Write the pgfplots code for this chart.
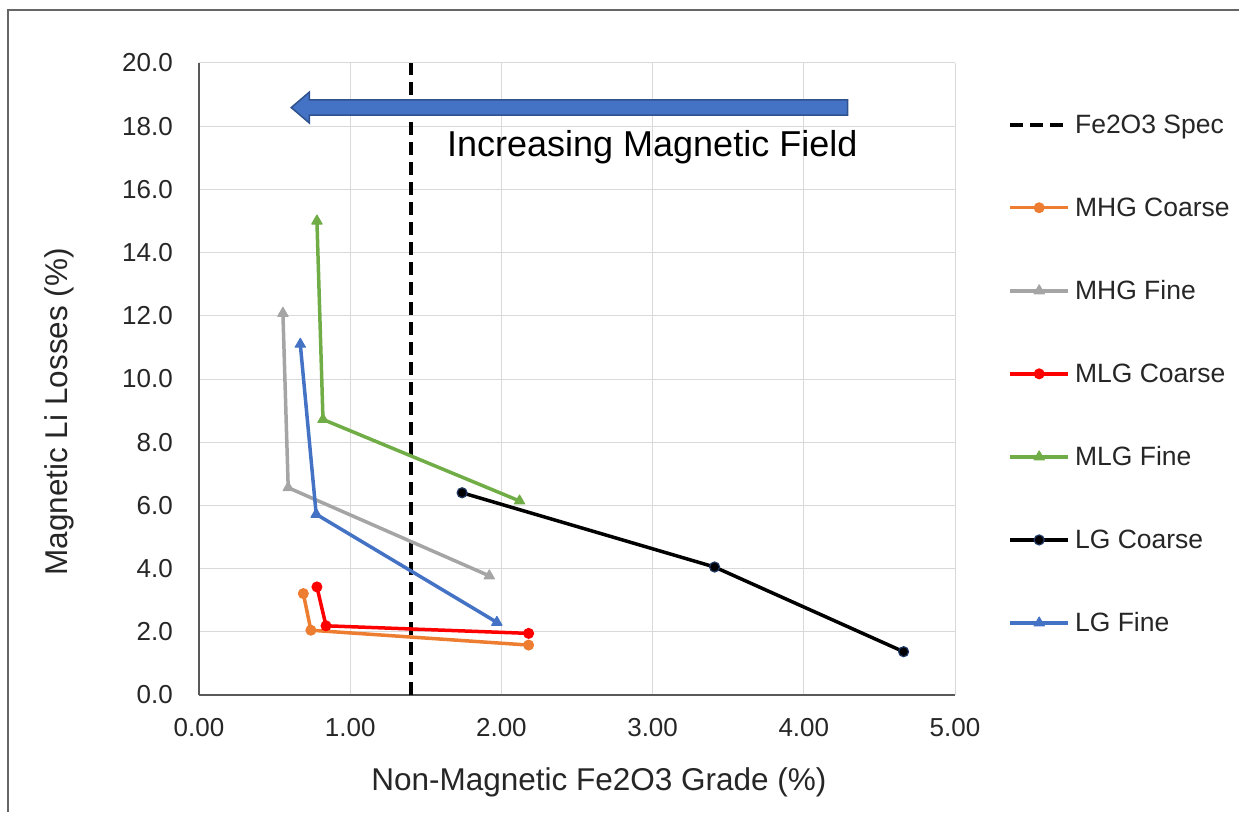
\documentclass[border=0pt]{standalone}
\usepackage{pgfplots}
\pgfplotsset{compat=1.18}
\usepackage{fontspec}
\setmainfont{Liberation Sans}
\definecolor{cOrange}{HTML}{ED7D31}
\definecolor{cGray}{HTML}{A5A5A5}
\definecolor{cRed}{HTML}{FF0000}
\definecolor{cGreen}{HTML}{70AD47}
\definecolor{cBlue}{HTML}{4472C4}
\definecolor{cNavy}{HTML}{1F3864}
\definecolor{arrowBorder}{HTML}{2F528F}
\definecolor{gridgray}{HTML}{D9D9D9}
\definecolor{axgray}{HTML}{595959}
\definecolor{txt}{HTML}{262626}
\begin{document}
\begin{tikzpicture}[x=1pt,y=1pt]
\useasboundingbox (0,0) rectangle (1239,812);
\draw[gray!80!black, line width=1.5pt] (8,0) -- (8,802) -- (1239,802);
\begin{axis}[
  at={(199pt,117pt)}, anchor=south west,
  scale only axis, width=756pt, height=632pt,
  xmin=0, xmax=5, ymin=0, ymax=20,
  xtick={0,1,2,3,4,5}, ytick={0,2,4,6,8,10,12,14,16,18,20},
  grid=major, major grid style={draw=gridgray, line width=1pt},
  axis x line*=bottom, axis y line*=left,
  axis line style={draw=axgray, line width=1.2pt, -},
  major tick length=0pt,
  /pgf/number format/assume math mode=true,
  tick label style={font=\fontsize{26}{30}\selectfont, text=txt, inner sep=0pt},
  xticklabel style={/pgf/number format/.cd, fixed, fixed zerofill, precision=2, /tikz/.cd, anchor=north, yshift=-23pt},
  yticklabel style={/pgf/number format/.cd, fixed, fixed zerofill, precision=1, /tikz/.cd, anchor=east, xshift=-26pt},
  scaled ticks=false,
  xlabel={Non-Magnetic Fe2O3 Grade (\%)},
  ylabel={Magnetic Li Losses (\%)},
  xlabel style={at={(axis description cs:0.529,-0.138)}, anchor=center, font=\fontsize{31.5}{36}\selectfont, text=txt},
  ylabel style={at={(axis description cs:-0.185,0.448)}, anchor=center, font=\fontsize{31.5}{36}\selectfont, text=txt},
  legend image code/.code={\draw[mark repeat=2,mark phase=2,#1] plot coordinates {(0pt,0pt) (29pt,0pt) (58pt,0pt)};},
  legend style={draw=none, fill=none, at={(axis description cs:1.0702,0.918)}, anchor=north west,
    inner sep=0pt, font=\fontsize{26.5}{30}\selectfont, text=txt, row sep=62.7pt, column sep=5pt,
    nodes={inner sep=0pt}},
  legend cell align=left,
  every axis plot/.append style={line join=round},
]
\addplot[black, line width=3.8pt, dash pattern=on 13pt off 7pt] coordinates {(1.4,0) (1.4,20)};
\addlegendentry{Fe2O3 Spec}
\addplot[cOrange, line width=3.5pt, mark=*, mark size=5pt, mark options={solid, fill=cOrange, draw=cOrange, line width=1pt}] coordinates {(0.69,3.21) (0.74,2.05) (2.18,1.58)};
\addlegendentry{MHG Coarse}
\addplot[cGray, line width=3.5pt, mark=triangle*, mark size=6pt, mark options={solid, fill=cGray, draw=cGray, line width=1pt}] coordinates {(0.555,12.08) (0.59,6.56) (1.92,3.77)};
\addlegendentry{MHG Fine}
\addplot[cRed, line width=3.5pt, mark=*, mark size=5pt, mark options={solid, fill=cRed, draw=cRed, line width=1pt}] coordinates {(0.78,3.42) (0.84,2.19) (2.18,1.95)};
\addlegendentry{MLG Coarse}
\addplot[cGreen, line width=3.5pt, mark=triangle*, mark size=6pt, mark options={solid, fill=cGreen, draw=cGreen, line width=1pt}] coordinates {(0.78,15.0) (0.82,8.72) (2.12,6.14)};
\addlegendentry{MLG Fine}
\addplot[black, line width=3.5pt, mark=*, mark size=5pt, mark options={solid, fill=black, draw=cNavy, line width=1.2pt}] coordinates {(1.74,6.40) (3.41,4.05) (4.66,1.37)};
\addlegendentry{LG Coarse}
\addplot[cBlue, line width=3.5pt, mark=triangle*, mark size=6pt, mark options={solid, fill=cBlue, draw=cBlue, line width=1pt}] coordinates {(0.67,11.1) (0.775,5.72) (1.97,2.3)};
\addlegendentry{LG Fine}
\draw[fill=cBlue, draw=arrowBorder, line width=1.5pt, line join=miter]
  (axis cs:4.29,18.35) -- (axis cs:0.73,18.35) -- (axis cs:0.73,18.10) -- (axis cs:0.61,18.59)
  -- (axis cs:0.73,19.08) -- (axis cs:0.73,18.83) -- (axis cs:4.29,18.83) -- cycle;
\node[anchor=west, inner sep=0pt, font=\fontsize{36}{40}\selectfont, text=black] at (axis cs:1.64,17.34) {Increasing Magnetic Field};
\end{axis}
\end{tikzpicture}
\end{document}
